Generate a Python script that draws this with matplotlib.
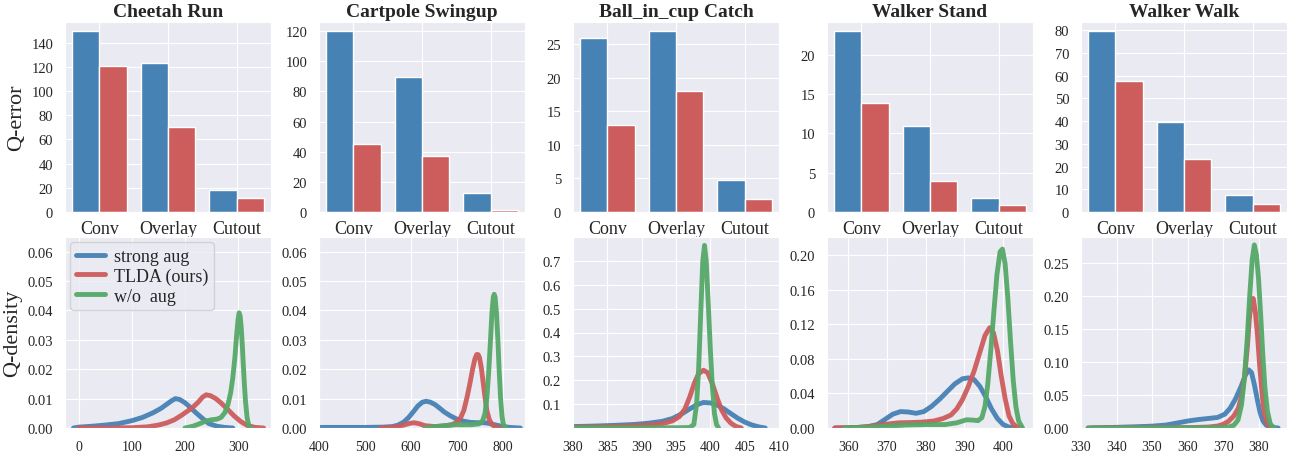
import numpy as np
import matplotlib
matplotlib.use("Agg")
import matplotlib.pyplot as plt
import seaborn as sns

sns.set_style("darkgrid")
plt.rcParams['font.family'] = ['Liberation Serif', 'DejaVu Serif']

BLUE = '#4682B4'
RED = '#CD5C5C'
GREEN = '#55A868'

tasks = ['Cheetah Run', 'Cartpole Swingup', 'Ball_in_cup Catch', 'Walker Stand', 'Walker Walk']
methods = ['Conv', 'Overlay', 'Cutout']

# Q-error, blue = strong aug, red = TLDA
err_strong = [
    [149.5, 123.5, 18.5],
    [120, 89.5, 12.5],
    [26, 27, 4.8],
    [23, 10.9, 1.8],
    [79.6, 39.5, 7.3],
]
err_tlda = [
    [120.5, 70, 11.5],
    [45, 37, 1.5],
    [13, 18, 1.9],
    [13.9, 3.9, 0.9],
    [57.5, 23.3, 3.3],
]
err_yticks = [range(0, 141, 20), range(0, 121, 20), range(0, 26, 5), range(0, 21, 5), range(0, 81, 10)]

# Q-density curves: (x, y) per task
strong_x = [
    [-10, 0, 25, 50, 75, 100, 120, 140, 155, 165, 175, 182, 190, 200, 210, 220, 232, 245, 260, 275, 290],
    [400, 450, 500, 540, 560, 572, 584, 595, 605, 615, 625, 633, 642, 652, 662, 672, 685, 700, 715, 730, 745, 760, 772, 785, 800, 815, 838],
    [380, 383, 386, 389, 391, 393, 394.5, 396, 397, 398, 399, 400, 401, 402, 403, 404, 405, 406, 407, 408],
    [356.5, 362, 365, 367.5, 369.5, 371.5, 373.5, 375.5, 377.5, 379.5, 381.5, 383.5, 385.5, 387.5, 389.5, 391, 392.5, 394, 395.5, 397, 398.5, 400, 401.5, 403],
    [332, 340, 346, 350, 354, 357, 360, 363, 366, 368.5, 370.5, 372, 373.5, 375, 376.3, 377.2, 378, 378.8, 379.6, 380.4, 381.2, 382.2, 383.5, 385.5],
]
strong_y = [
    [0.0, 0.0003, 0.0006, 0.0010, 0.0015, 0.0025, 0.0036, 0.0052, 0.0067, 0.0080, 0.0093, 0.0100, 0.0097, 0.0086, 0.0070, 0.0053, 0.0034, 0.0015, 0.0006, 0.0002, 0.0],
    [0.0002, 0.0002, 0.0002, 0.0003, 0.0005, 0.0010, 0.0020, 0.0036, 0.0055, 0.0075, 0.0088, 0.0091, 0.0088, 0.0080, 0.0068, 0.0055, 0.0042, 0.0030, 0.0023, 0.0019, 0.0018, 0.0018, 0.0015, 0.0010, 0.0005, 0.0002, 0.0],
    [0.006, 0.008, 0.011, 0.015, 0.020, 0.028, 0.040, 0.062, 0.080, 0.097, 0.107, 0.105, 0.096, 0.080, 0.060, 0.041, 0.025, 0.013, 0.005, 0.0],
    [0.0, 0.0005, 0.0015, 0.004, 0.010, 0.016, 0.019, 0.0185, 0.017, 0.019, 0.025, 0.033, 0.042, 0.051, 0.057, 0.058, 0.056, 0.048, 0.036, 0.022, 0.011, 0.004, 0.001, 0.0],
    [0.0, 0.001, 0.002, 0.0028, 0.0045, 0.0075, 0.0105, 0.0128, 0.0145, 0.016, 0.021, 0.030, 0.044, 0.062, 0.080, 0.088, 0.084, 0.066, 0.044, 0.024, 0.011, 0.004, 0.001, 0.0],
]
tlda_x = [
    [0, 50, 100, 130, 150, 165, 180, 195, 205, 215, 225, 233, 240, 248, 258, 268, 280, 292, 305, 318, 332, 348],
    [534, 560, 580, 595, 606, 617, 630, 650, 670, 690, 700, 708, 715, 722, 728, 734, 739, 743, 746, 749, 753, 757, 761, 765, 770, 776, 783, 794],
    [380, 384, 388, 391, 393, 394.5, 395.5, 396.3, 397, 397.7, 398.3, 399, 399.6, 400.3, 401, 401.6, 402.3, 403, 403.7, 404.5],
    [356.5, 362, 366, 370, 373, 376, 379, 382, 384.5, 386.5, 388, 389.5, 391, 392.5, 394, 395.3, 396.5, 397.5, 398.5, 399.5, 400.5, 401.5, 402.5, 403.5, 404.7],
    [333, 345, 355, 362, 366, 368.5, 370, 371.5, 373, 374.3, 375.3, 376.1, 376.8, 377.4, 378, 378.5, 379.1, 379.7, 380.3, 381, 381.7, 382.5, 383.5],
]
tlda_y = [
    [0.0, 0.0, 0.0001, 0.0004, 0.0010, 0.0017, 0.0028, 0.0045, 0.0058, 0.0071, 0.0088, 0.0105, 0.0113, 0.0110, 0.0100, 0.0085, 0.0064, 0.0042, 0.0022, 0.0008, 0.0002, 0.0],
    [0.0, 0.0002, 0.0008, 0.0015, 0.0018, 0.0015, 0.0008, 0.0005, 0.0006, 0.0012, 0.0020, 0.0035, 0.0060, 0.0105, 0.0150, 0.0200, 0.0235, 0.0250, 0.0250, 0.0240, 0.0205, 0.0155, 0.0105, 0.0060, 0.0030, 0.0012, 0.0004, 0.0],
    [0.003, 0.005, 0.008, 0.012, 0.018, 0.030, 0.048, 0.080, 0.130, 0.190, 0.228, 0.242, 0.232, 0.185, 0.125, 0.078, 0.042, 0.020, 0.007, 0.0],
    [0.0, 0.0005, 0.002, 0.0045, 0.006, 0.0063, 0.0068, 0.008, 0.011, 0.015, 0.022, 0.033, 0.048, 0.066, 0.088, 0.107, 0.116, 0.110, 0.090, 0.060, 0.034, 0.014, 0.005, 0.0015, 0.0],
    [0.0, 0.0002, 0.0004, 0.0008, 0.0015, 0.003, 0.0055, 0.010, 0.018, 0.030, 0.050, 0.080, 0.120, 0.165, 0.195, 0.196, 0.175, 0.140, 0.095, 0.050, 0.020, 0.006, 0.0],
]
noaug_x = [
    [200, 215, 228, 240, 250, 260, 268, 275, 281, 286, 290, 294, 297, 300, 302, 304, 306, 308, 310, 312, 314, 317, 320, 325],
    [631, 650, 670, 700, 730, 748, 756, 761, 765, 769, 773, 776, 779, 781, 783, 786, 789, 792, 795, 798, 801, 807],
    [380, 385, 390, 395, 397, 397.6, 398.0, 398.3, 398.6, 398.9, 399.15, 399.4, 399.7, 400.0, 400.3, 400.6, 400.9, 401.2],
    [359, 365, 370, 375, 380, 385, 388, 390.5, 392, 393.5, 394.5, 395.3, 396, 396.8, 397.6, 398.4, 399.2, 399.8, 400.5, 401.2, 401.9, 402.6, 403.3, 404, 405],
    [332, 345, 360, 368, 371.5, 373, 374.2, 375.2, 376, 376.8, 377.5, 378.2, 378.8, 379.4, 380, 380.6, 381.2, 381.8, 382.5, 383.3, 384.4],
]
noaug_y = [
    [0.0, 0.0006, 0.0015, 0.0024, 0.0028, 0.0030, 0.0036, 0.0052, 0.0080, 0.0120, 0.0170, 0.0240, 0.0310, 0.0370, 0.0392, 0.0380, 0.0340, 0.0280, 0.0210, 0.0145, 0.0090, 0.0035, 0.0010, 0.0],
    [0.0, 0.0004, 0.0008, 0.0011, 0.0011, 0.0014, 0.0025, 0.0050, 0.0100, 0.0190, 0.0300, 0.0390, 0.0445, 0.0455, 0.0445, 0.0390, 0.0300, 0.0190, 0.0100, 0.0040, 0.0012, 0.0],
    [0.001, 0.001, 0.001, 0.001, 0.002, 0.015, 0.10, 0.25, 0.48, 0.70, 0.765, 0.70, 0.52, 0.33, 0.17, 0.06, 0.015, 0.0],
    [0.0, 0.0008, 0.002, 0.0035, 0.004, 0.004, 0.006, 0.0095, 0.0092, 0.0085, 0.012, 0.025, 0.050, 0.090, 0.135, 0.178, 0.204, 0.207, 0.190, 0.150, 0.100, 0.055, 0.024, 0.008, 0.0],
    [0.0, 0.0001, 0.0002, 0.0005, 0.0015, 0.004, 0.012, 0.035, 0.075, 0.135, 0.200, 0.255, 0.277, 0.262, 0.225, 0.170, 0.110, 0.060, 0.025, 0.006, 0.0],
]
dens_xlim = [(-26, 362), (400, 848), (380, 410), (354.5, 407.7), (330, 388)]
dens_ylim = [(0, 0.065), (0, 0.065), (0, 0.8), (0, 0.221), (0, 0.289)]
dens_xticks = [[0, 100, 200, 300], [400, 500, 600, 700, 800], [380, 385, 390, 395, 400, 405, 410],
               [360, 370, 380, 390, 400], [330, 340, 350, 360, 370, 380]]
dens_yticks = [[0, 0.01, 0.02, 0.03, 0.04, 0.05, 0.06], [0, 0.01, 0.02, 0.03, 0.04, 0.05, 0.06],
               [0.1, 0.2, 0.3, 0.4, 0.5, 0.6, 0.7], [0, 0.04, 0.08, 0.12, 0.16, 0.20],
               [0, 0.05, 0.10, 0.15, 0.20, 0.25]]
dens_yfmt = ['%.2f', '%.2f', '%.1f', '%.2f', '%.2f']

W, H = 1289, 452
fig = plt.figure(figsize=(W / 100, H / 100), dpi=100)
lefts = [65, 319, 573, 827, 1081]
aw = 206

pos = np.arange(len(methods))
for i in range(5):
    # top row: Q-error bars
    ax = fig.add_axes([lefts[i] / W, 1 - 213 / H, aw / W, 190 / H])
    ax.bar(pos - 0.2, err_strong[i], 0.4, color=BLUE, edgecolor='white', linewidth=1)
    ax.bar(pos + 0.2, err_tlda[i], 0.4, color=RED, edgecolor='white', linewidth=1)
    ax.set_xlim(-0.5, 2.5)
    ax.set_xticks(pos)
    ax.set_xticklabels(methods, fontsize=13)
    ax.set_yticks(list(err_yticks[i]))
    ax.tick_params(axis='y', labelsize=10.5, pad=5)
    ax.tick_params(axis='x', pad=2)
    ax.set_title(tasks[i], fontsize=14, fontweight='bold', pad=4)
    if i == 0:
        ax.set_ylabel('Q-error', fontsize=16)

    # bottom row: Q-density
    ax2 = fig.add_axes([lefts[i] / W, 1 - 429 / H, aw / W, 191 / H])
    ax2.plot(strong_x[i], strong_y[i], color=BLUE, lw=3.5, alpha=0.95, label='strong aug')
    ax2.plot(tlda_x[i], tlda_y[i], color=RED, lw=3.5, alpha=0.95, label='TLDA (ours)')
    ax2.plot(noaug_x[i], noaug_y[i], color=GREEN, lw=3.5, alpha=0.95, label='w/o  aug')
    ax2.set_xlim(*dens_xlim[i])
    ax2.set_ylim(*dens_ylim[i])
    ax2.set_xticks(dens_xticks[i])
    ax2.set_yticks(dens_yticks[i])
    ax2.set_yticklabels([dens_yfmt[i] % v for v in dens_yticks[i]])
    ax2.tick_params(axis='y', labelsize=10.5, pad=5)
    ax2.tick_params(axis='x', labelsize=10, pad=5)
    if i == 0:
        ax2.set_ylabel('Q-density', fontsize=16)
        ax2.legend(loc='upper left', fontsize=13, handlelength=1.6, borderaxespad=0.3,
                   labelspacing=0.15, handletextpad=0.5, borderpad=0.3)

fig.savefig('out.png', dpi=100)
